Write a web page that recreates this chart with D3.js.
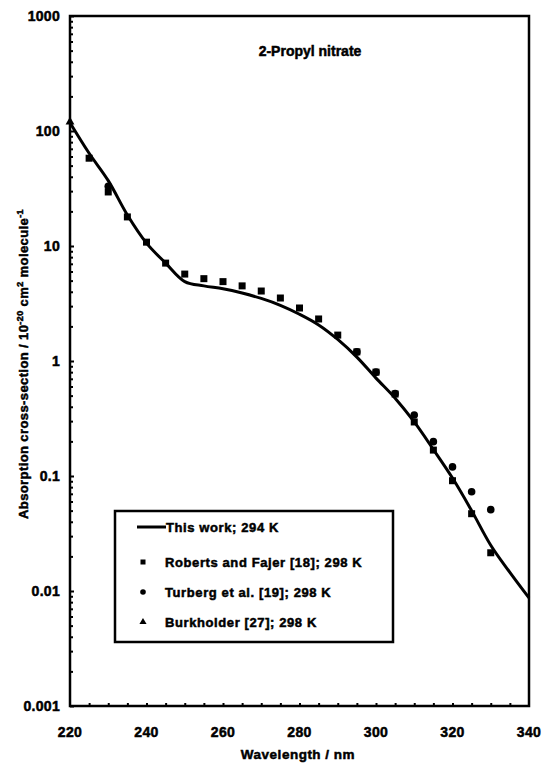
<!DOCTYPE html>
<html>
<head>
<meta charset="utf-8">
<script src="https://cdn.jsdelivr.net/npm/d3@7"></script>
<style>
  body { margin: 0; background: #fff; }
  text { font-family: "Liberation Sans", Arial, sans-serif; font-weight: bold; fill: #000; stroke: #000; stroke-width: 0.5px; }
</style>
</head>
<body>
<div id="chart"></div>
<script>
// This work curve (wavelength, cross-section)
const curveWl = [220, 225, 230, 235, 240, 245, 250, 255, 260, 265, 270, 275, 280, 285, 290, 295, 300, 305, 310, 315, 320, 325, 330, 335, 340];
const curveVal = [118, 64, 37, 18.6, 10.6, 7.1, 4.9, 4.5, 4.25, 3.9, 3.5, 3.05, 2.55, 2.06, 1.54, 1.08, 0.71, 0.475, 0.295, 0.17, 0.096, 0.05, 0.025, 0.0145, 0.0087];

// Roberts and Fajer [18]
const robertsWl = [225, 230, 235, 240, 245, 250, 255, 260, 265, 270, 275, 280, 285, 290, 295, 300, 305, 310, 315, 320, 325, 330];
const robertsVal = [58, 29.5, 17.9, 10.8, 7.1, 5.7, 5.2, 4.9, 4.5, 4.06, 3.53, 2.89, 2.32, 1.68, 1.2, 0.8, 0.516, 0.295, 0.168, 0.091, 0.047, 0.0215];

// Turberg et al. [19]
const turbergWl = [230, 295, 300, 305, 310, 315, 320, 325, 330];
const turbergVal = [33, 1.2, 0.8, 0.52, 0.339, 0.199, 0.12, 0.073, 0.051];

// Burkholder [27]
const burkWl = [220];
const burkVal = [120];

const yTicks = [0.001, 0.01, 0.1, 1, 10, 100, 1000];
const yTickLabels = ["0.001", "0.01", "0.1", "1", "10", "100", "1000"];
const xTicks = [220, 240, 260, 280, 300, 320, 340];

const legendLabels = ["This work; 294 K", "Roberts and Fajer [18]; 298 K", "Turberg et al. [19]; 298 K", "Burkholder [27]; 298 K"];

const W = 543, H = 764;
const margin = {top: 16, right: 14, bottom: 58, left: 70};

const svg = d3.select("#chart").append("svg")
  .attr("width", W)
  .attr("height", H);

const x = d3.scaleLinear().domain([220, 340]).range([margin.left, W - margin.right]);
const y = d3.scaleLog().domain([0.001, 1000]).range([H - margin.bottom, margin.top]);

// Minor ticks
const yMinor = [];
for (let e = -3; e < 3; e++) {
  for (let m = 2; m <= 9; m++) yMinor.push(m * Math.pow(10, e));
}
const xMinor = d3.range(225, 340, 5);

// Y axis (ticks inside)
svg.append("g")
  .attr("transform", `translate(${margin.left},0)`)
  .call(d3.axisRight(y).tickValues(yMinor).tickSize(3).tickFormat(""))
  .call(g => g.select(".domain").remove())
  .call(g => g.selectAll("line").attr("stroke-width", 2));
svg.append("g")
  .attr("transform", `translate(${margin.left},0)`)
  .call(d3.axisRight(y).tickValues(yTicks).tickSize(4).tickFormat(""))
  .call(g => g.select(".domain").remove())
  .call(g => g.selectAll("line").attr("stroke-width", 2));

svg.append("g").selectAll("text")
  .data(yTicks)
  .join("text")
  .attr("x", margin.left - 10)
  .attr("y", d => y(d) + 5)
  .attr("text-anchor", "end")
  .attr("font-size", 14)
  .attr("letter-spacing", 0.3)
  .text((d, i) => yTickLabels[i]);

// X axis (ticks inside)
svg.append("g")
  .attr("transform", `translate(0,${H - margin.bottom})`)
  .call(d3.axisTop(x).tickValues(xMinor).tickSize(3).tickFormat(""))
  .call(g => g.select(".domain").remove())
  .call(g => g.selectAll("line").attr("stroke-width", 2));

svg.append("g").selectAll("text")
  .data(xTicks)
  .join("text")
  .attr("x", d => x(d))
  .attr("y", H - margin.bottom + 31)
  .attr("text-anchor", "middle")
  .attr("font-size", 14)
  .attr("letter-spacing", 0.3)
  .text(d => d);

// Frame
svg.append("rect")
  .attr("x", margin.left)
  .attr("y", margin.top)
  .attr("width", W - margin.right - margin.left)
  .attr("height", H - margin.bottom - margin.top)
  .attr("fill", "none")
  .attr("stroke", "#000")
  .attr("stroke-width", 2.5);

// Axis titles
svg.append("text")
  .attr("x", 298)
  .attr("y", 759)
  .attr("text-anchor", "middle")
  .attr("font-size", 13.5)
  .attr("letter-spacing", 0.5)
  .text("Wavelength / nm");

const yt = svg.append("text")
  .attr("transform", "translate(28,364) rotate(-90)")
  .attr("text-anchor", "middle")
  .attr("font-size", 13)
  .attr("letter-spacing", 0.4);
yt.append("tspan").text("Absorption cross-section / 10");
yt.append("tspan").attr("dy", -5).attr("font-size", 9).text("-20");
yt.append("tspan").attr("dy", 5).text(" cm");
yt.append("tspan").attr("dy", -5).attr("font-size", 9).text("2");
yt.append("tspan").attr("dy", 5).text(" molecule");
yt.append("tspan").attr("dy", -5).attr("font-size", 9).text("-1");

// Title
svg.append("text")
  .attr("x", 310)
  .attr("y", 56)
  .attr("text-anchor", "middle")
  .attr("font-size", 14)
  .text("2-Propyl nitrate");

// Curve
const curveData = curveWl.map((w, i) => ({w: w, v: curveVal[i]}));
const line = d3.line()
  .x(d => x(d.w))
  .y(d => y(d.v))
  .curve(d3.curveCatmullRom.alpha(0.5));

svg.append("path")
  .datum(curveData)
  .attr("fill", "none")
  .attr("stroke", "#000")
  .attr("stroke-width", 3)
  .attr("d", line);

// Points
const sq = 7;
svg.append("g").selectAll("rect")
  .data(robertsWl.map((w, i) => ({w: w, v: robertsVal[i]})))
  .join("rect")
  .attr("x", d => x(d.w) - sq / 2)
  .attr("y", d => y(d.v) - sq / 2)
  .attr("width", sq)
  .attr("height", sq)
  .attr("fill", "#000");

svg.append("g").selectAll("circle")
  .data(turbergWl.map((w, i) => ({w: w, v: turbergVal[i]})))
  .join("circle")
  .attr("cx", d => x(d.w))
  .attr("cy", d => y(d.v))
  .attr("r", 3.8)
  .attr("fill", "#000");

const tri = d3.symbol().type(d3.symbolTriangle).size(34);
svg.append("g").selectAll("path")
  .data(burkWl.map((w, i) => ({w: w, v: burkVal[i]})))
  .join("path")
  .attr("transform", d => `translate(${x(d.w)},${y(d.v)})`)
  .attr("d", tri)
  .attr("fill", "#000");

// Legend
const lg = svg.append("g");
lg.append("rect")
  .attr("x", 115).attr("y", 511)
  .attr("width", 278).attr("height", 131)
  .attr("fill", "#fff")
  .attr("stroke", "#000")
  .attr("stroke-width", 2.5);

const rowY = [527, 562, 592, 622];
lg.append("line")
  .attr("x1", 137).attr("x2", 166)
  .attr("y1", rowY[0]).attr("y2", rowY[0])
  .attr("stroke", "#000").attr("stroke-width", 3);
lg.append("rect")
  .attr("x", 143 - 2.5).attr("y", rowY[1] - 2.5)
  .attr("width", 5).attr("height", 5)
  .attr("fill", "#000");
lg.append("circle")
  .attr("cx", 143).attr("cy", rowY[2]).attr("r", 2.8)
  .attr("fill", "#000");
lg.append("path")
  .attr("transform", `translate(143,${rowY[3]})`)
  .attr("d", d3.symbol().type(d3.symbolTriangle).size(22))
  .attr("fill", "#000");

lg.selectAll("text.lab")
  .data(legendLabels)
  .join("text")
  .attr("class", "lab")
  .attr("x", (d, i) => i === 0 ? 166 : 165)
  .attr("y", (d, i) => rowY[i] + 4.5)
  .attr("font-size", 13)
  .attr("letter-spacing", 0.6)
  .text(d => d);
</script>
</body>
</html>
